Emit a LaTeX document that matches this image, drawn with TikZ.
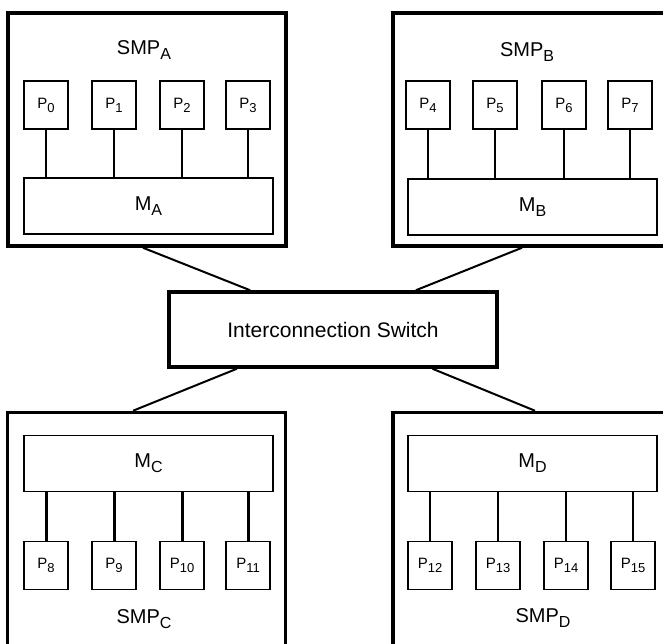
\documentclass[tikz,border=0pt]{standalone}
\usepackage{fontspec}
\setmainfont{Liberation Sans}
\usetikzlibrary{calc}

\newcommand{\psub}[1]{\raisebox{-4pt}{\fontsize{13}{13}\selectfont #1}}
\newcommand{\bsub}[1]{\raisebox{-5pt}{\fontsize{16}{16}\selectfont #1}}

\tikzset{
    smpbox/.style={draw,black,line width=3.5pt,minimum width=278pt,minimum height=233pt,inner sep=0pt},
    membox/.style={draw,black,line width=1.6pt,minimum width=249pt,minimum height=56pt,inner sep=0pt,font=\fontsize{20}{24}\selectfont},
    procbox/.style={draw,black,line width=1.6pt,minimum width=44pt,minimum height=48pt,inner sep=0pt,font=\fontsize{15}{18}\selectfont},
    link/.style={black,line width=2pt},
    smplabel/.style={anchor=base,font=\fontsize{20}{24}\selectfont}
}

\begin{document}
\begin{tikzpicture}[x=1pt,y=-1pt]
        \useasboundingbox (0,0) rectangle (663,644);
        \clip (0,0) rectangle (663,644);

        \node[smpbox] (smpA) at (147,129.5) {};
        \node[smpbox] (smpB) at (532,129.5) {};
        \node[smpbox] (smpC) at (146.5,529) {};
        \node[smpbox] (smpD) at (532,529) {};

        \node[smplabel] (labA) at (144,55) {SMP\bsub{A}};
        \node[smplabel] (labB) at (527,57) {SMP\bsub{B}};
        \node[smplabel] (labC) at (144,623) {SMP\bsub{C}};
        \node[smplabel] (labD) at (543,622) {SMP\bsub{D}};

        \node[membox] (mA) at (148.5,206) {M\bsub{A}};
        \node[membox] (mB) at (532.5,207) {M\bsub{B}};
        \node[membox] (mC) at (148.5,463.5) {M\bsub{C}};
        \node[membox] (mD) at (532.5,463.5) {M\bsub{D}};

        \foreach \i/\x in {0/46,1/114,2/182,3/248} {
            \node[procbox] (p\i) at (\x,105) {P\psub{\i}};
            \draw[link] (p\i.south) -- (p\i.south |- mA.north);
        }
        \foreach \i/\x in {4/428,5/495,6/564,7/630} {
            \node[procbox] (p\i) at (\x,105) {P\psub{\i}};
            \draw[link] (p\i.south) -- (p\i.south |- mB.north);
        }
        \foreach \i/\x in {8/46,9/114,10/182,11/248} {
            \node[procbox] (p\i) at (\x,565.5) {P\psub{\i}};
            \draw[black,line width=3pt] (p\i.north) -- (p\i.north |- mC.south);
        }
        \foreach \i/\x in {12/430,13/498,14/566,15/633} {
            \node[procbox] (p\i) at (\x,565.5) {P\psub{\i}};
            \draw[link] (p\i.north) -- (p\i.north |- mD.south);
        }

        \node[draw,black,line width=3.5pt,minimum width=328pt,minimum height=75pt,inner sep=0pt,
              font=\fontsize{21}{25}\selectfont] (sw) at (333,329.5) {Interconnection Switch};

        \draw[link] ([xshift=-4pt]smpA.south) -- ($(sw.north west)!0.25!(sw.north east)$);
        \draw[link] ([xshift=-10pt]smpB.south) -- ($(sw.north west)!0.75!(sw.north east)$);
        \draw[link] ($(sw.south west)!0.21!(sw.south east)$) -- ([xshift=-13.5pt]smpC.north);
        \draw[link] ($(sw.south west)!0.80!(sw.south east)$) -- ([xshift=3pt]smpD.north);
    \end{tikzpicture}
\end{document}
